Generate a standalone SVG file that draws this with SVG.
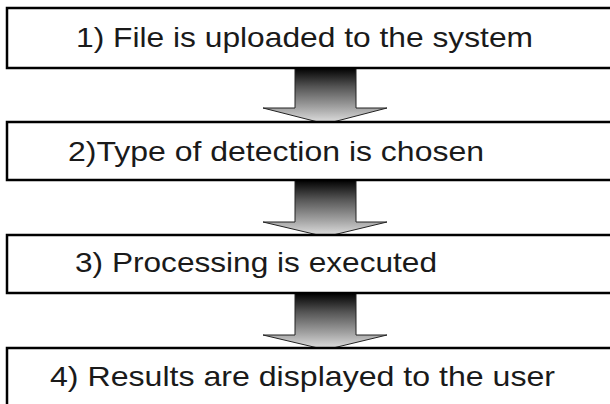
<svg xmlns="http://www.w3.org/2000/svg" width="610" height="404" viewBox="0 0 610 404">
  <defs>
    <linearGradient id="arrowGrad" x1="0" y1="0" x2="0" y2="1">
      <stop offset="0" stop-color="#000"/>
      <stop offset="0.35" stop-color="#555"/>
      <stop offset="0.72" stop-color="#a0a0a0"/>
      <stop offset="1" stop-color="#dcdcdc"/>
    </linearGradient>
    <style>
      .box { fill: #fff; stroke: #000; stroke-width: 2.5; }
      .lbl { font-family: "Liberation Sans", Arial, Helvetica, sans-serif; font-size: 28px; fill: #1a1a1a; }
      .arrow { fill: url(#arrowGrad); stroke: #222; stroke-width: 1; stroke-linejoin: miter; }
    </style>
  </defs>
  <rect width="610" height="404" fill="#fff"/>
  <g id="connectors">
    <path class="arrow" d="M295,68 L356,68 L356,108 L387,108 L333,122 L318,122 L263,108 L295,108 Z"/>
    <path class="arrow" d="M295,180 L356,180 L356,222 L387,222 L333,235 L318,235 L263,222 L295,222 Z"/>
    <path class="arrow" d="M295,293 L356,293 L356,335 L387,335 L333,348 L318,348 L263,335 L295,335 Z"/>
  </g>
  <g id="step1">
    <rect class="box" x="7" y="8" width="620" height="60"/>
    <text class="lbl" x="76" y="47" textLength="457" lengthAdjust="spacingAndGlyphs">1) File is uploaded to the system</text>
  </g>
  <g id="step2">
    <rect class="box" x="7" y="122" width="620" height="58"/>
    <text class="lbl" x="68" y="161" textLength="416" lengthAdjust="spacingAndGlyphs">2)Type of detection is chosen</text>
  </g>
  <g id="step3">
    <rect class="box" x="7" y="235" width="620" height="58"/>
    <text class="lbl" x="75" y="272" textLength="362" lengthAdjust="spacingAndGlyphs">3) Processing is executed</text>
  </g>
  <g id="step4">
    <rect class="box" x="7" y="348" width="620" height="70"/>
    <text class="lbl" x="50" y="386" textLength="505" lengthAdjust="spacingAndGlyphs">4) Results are displayed to the user</text>
  </g>
</svg>
